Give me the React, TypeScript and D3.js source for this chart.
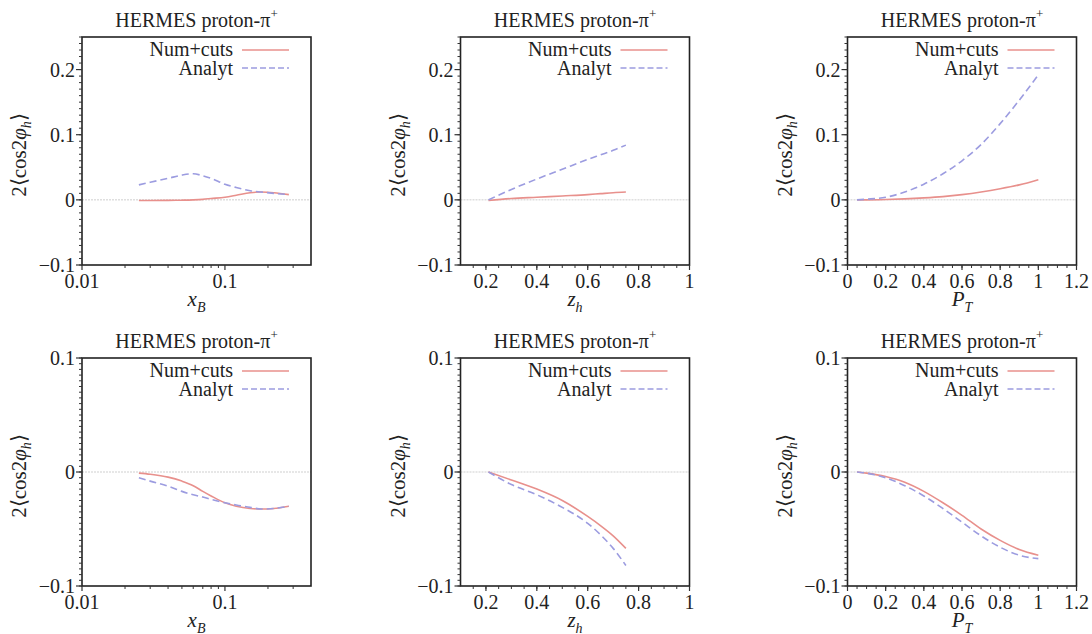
import React from "react";
import * as d3 from "d3";

// ---- data ----
const xbGrid = [0.025, 0.03, 0.04, 0.05, 0.06, 0.07, 0.08, 0.1, 0.12, 0.15, 0.18, 0.22, 0.28];
const zhGrid = [0.21, 0.3, 0.4, 0.5, 0.6, 0.65, 0.7, 0.75];
const ptGrid = [0.05, 0.1, 0.2, 0.3, 0.4, 0.5, 0.6, 0.7, 0.8, 0.9, 1.0];

const topXbNum = [-0.001, -0.001, -0.0008, -0.0005, 0, 0.0008, 0.002, 0.004, 0.007, 0.011, 0.012, 0.011, 0.008];
const topXbAna = [0.023, 0.027, 0.033, 0.038, 0.040, 0.037, 0.033, 0.024, 0.019, 0.014, 0.012, 0.010, 0.008];
const topZhNum = [-0.001, 0.002, 0.004, 0.006, 0.008, 0.0095, 0.011, 0.012];
const topZhAna = [0, 0.016, 0.032, 0.047, 0.062, 0.069, 0.076, 0.084];
const topPtNum = [0, 0, 0.0005, 0.0015, 0.003, 0.005, 0.008, 0.012, 0.017, 0.023, 0.031];
const topPtAna = [0, 0.001, 0.004, 0.012, 0.024, 0.040, 0.060, 0.085, 0.117, 0.153, 0.192];

const botXbNum = [-0.001, -0.002, -0.0045, -0.008, -0.012, -0.017, -0.021, -0.027, -0.030, -0.032, -0.0325, -0.032, -0.030];
const botXbAna = [-0.005, -0.008, -0.0125, -0.017, -0.020, -0.022, -0.024, -0.027, -0.029, -0.031, -0.0325, -0.032, -0.030];
const botZhNum = [0, -0.007, -0.015, -0.025, -0.039, -0.047, -0.056, -0.067];
const botZhAna = [0, -0.011, -0.020, -0.031, -0.045, -0.055, -0.067, -0.082];
const botPtNum = [0, -0.001, -0.004, -0.009, -0.017, -0.027, -0.038, -0.050, -0.060, -0.068, -0.073];
const botPtAna = [0, -0.001, -0.005, -0.012, -0.021, -0.032, -0.044, -0.056, -0.066, -0.073, -0.076];

const xbTickLabels = ["0.01", "0.1"];
const zhTickLabels = ["0.2", "0.4", "0.6", "0.8", "1"];
const ptTickLabels = ["0", "0.2", "0.4", "0.6", "0.8", "1", "1.2"];
const topYLabels = ["0.2", "0.1", "0", "−0.1"];
const botYLabels = ["0.1", "0", "−0.1"];

const TITLE = "HERMES proton-π";
const LEG_NUM = "Num+cuts";
const LEG_ANA = "Analyt";

const RED = "#e8908c";
const BLUE = "#9c9ce0";
const FONT = "Liberation Serif, serif";

type PanelKind = "xb" | "zh" | "pt";

interface PanelProps {
  left: number;
  top: number;
  kind: PanelKind;
  row: "top" | "bot";
  xs: number[];
  num: number[];
  ana: number[];
}

const W = 229;
const H = 228;

function Panel({ left, top, kind, row, xs, num, ana }: PanelProps) {
  let x: any;
  let minorX: number[] = [];
  let majorX: { v: number; label: string }[] = [];
  if (kind === "xb") {
    x = d3.scaleLog().domain([0.01, 0.4]).range([0, W]);
    minorX = [0.02, 0.03, 0.04, 0.05, 0.06, 0.07, 0.08, 0.09, 0.2, 0.3];
    majorX = [0.01, 0.1].map((v, i) => ({ v, label: xbTickLabels[i] }));
  } else if (kind === "zh") {
    x = d3.scaleLinear().domain([0.1, 1]).range([0, W]);
    minorX = d3.range(0.15, 1.0, 0.05);
    majorX = [0.2, 0.4, 0.6, 0.8, 1].map((v, i) => ({ v, label: zhTickLabels[i] }));
  } else {
    x = d3.scaleLinear().domain([0, 1.2]).range([0, W]);
    minorX = d3.range(0.05, 1.2, 0.05);
    majorX = [0, 0.2, 0.4, 0.6, 0.8, 1, 1.2].map((v, i) => ({ v, label: ptTickLabels[i] }));
  }
  const yDom = row === "top" ? [-0.1, 0.25] : [-0.1, 0.1];
  const y = d3.scaleLinear().domain(yDom).range([H, 0]);
  const yStep = row === "top" ? 0.01 : 0.005;
  const minorY: number[] = [];
  for (let v = yDom[0]; v <= yDom[1] + 1e-9; v += yStep) minorY.push(+v.toFixed(4));
  const majorYVals = row === "top" ? [0.2, 0.1, 0, -0.1] : [0.1, 0, -0.1];
  const yLabs = row === "top" ? topYLabels : botYLabels;

  const line = d3
    .line<number>()
    .x((_, i) => x(xs[i]))
    .y((d) => y(d))
    .curve(d3.curveMonotoneX);

  const xlabel =
    kind === "xb" ? (
      <>
        <tspan fontStyle="italic">x</tspan>
        <tspan fontStyle="italic" fontSize={14} dy={6}>B</tspan>
      </>
    ) : kind === "zh" ? (
      <>
        <tspan fontStyle="italic">z</tspan>
        <tspan fontStyle="italic" fontSize={14} dy={6}>h</tspan>
      </>
    ) : (
      <>
        <tspan fontStyle="italic">P</tspan>
        <tspan fontStyle="italic" fontSize={14} dy={6}>T</tspan>
      </>
    );

  return (
    <g transform={`translate(${left},${top})`} fontFamily={FONT} fill="#222">
      {/* title */}
      <text x={W / 2} y={-10} textAnchor="middle" fontSize={20}>
        {TITLE}
        <tspan fontSize={13} dy={-9}>+</tspan>
      </text>
      {/* zero line */}
      <line x1={0} x2={W} y1={y(0)} y2={y(0)} stroke="#cfcfcf" strokeWidth={1} strokeDasharray="2,1" />
      {/* curves */}
      <path d={line(num) || ""} fill="none" stroke={RED} strokeWidth={1.6} />
      <path d={line(ana) || ""} fill="none" stroke={BLUE} strokeWidth={1.6} strokeDasharray="7,4" />
      {/* legend */}
      <text x={151} y={19} textAnchor="end" fontSize={20}>{LEG_NUM}</text>
      <line x1={160} x2={207} y1={13} y2={13} stroke={RED} strokeWidth={1.5} />
      <text x={151} y={38} textAnchor="end" fontSize={20}>{LEG_ANA}</text>
      <line x1={160} x2={207} y1={31} y2={31} stroke={BLUE} strokeWidth={1.5} strokeDasharray="6,3" />
      {/* frame */}
      <rect x={0} y={0} width={W} height={H} fill="none" stroke="#222" strokeWidth={1.6} />
      {/* y ticks */}
      {minorY.map((v, i) => (
        <line key={"my" + i} x1={-3} x2={0} y1={y(v)} y2={y(v)} stroke="#333" strokeWidth={1} />
      ))}
      {majorYVals.map((v, i) => (
        <g key={"My" + i}>
          <line x1={-6} x2={0} y1={y(v)} y2={y(v)} stroke="#333" strokeWidth={1.2} />
          <text x={-7} y={y(v) + 7} textAnchor="end" fontSize={20}>{yLabs[i]}</text>
        </g>
      ))}
      {/* x ticks */}
      {minorX.map((v, i) => (
        <line key={"mx" + i} x1={x(v)} x2={x(v)} y1={H} y2={H + 3} stroke="#333" strokeWidth={1} />
      ))}
      {majorX.map((t, i) => (
        <g key={"Mx" + i}>
          <line x1={x(t.v)} x2={x(t.v)} y1={H} y2={H + 5} stroke="#333" strokeWidth={1.2} />
          <text x={x(t.v)} y={H + 23} textAnchor="middle" fontSize={20}>{t.label}</text>
        </g>
      ))}
      {/* x label */}
      <text x={W / 2} y={H + 41} textAnchor="middle" fontSize={21}>{xlabel}</text>
      {/* y label */}
      <text
        transform={`translate(${-56},${H / 2 + 4}) rotate(-90)`}
        textAnchor="middle"
        fontSize={21}
      >
        2⟨cos2
        <tspan fontStyle="italic">φ</tspan>
        <tspan fontStyle="italic" fontSize={14} dy={5}>h</tspan>
        <tspan dy={-5}>⟩</tspan>
      </text>
    </g>
  );
}

export default function App() {
  const lefts = [82, 460.5, 847.5];
  const tops = [37, 358];
  return (
    <div style={{ position: "absolute", left: 0, top: 0 }}>
      <svg width={1092} height={634} style={{ display: "block", background: "#fff" }}>
        <Panel left={lefts[0]} top={tops[0]} kind="xb" row="top" xs={xbGrid} num={topXbNum} ana={topXbAna} />
        <Panel left={lefts[1]} top={tops[0]} kind="zh" row="top" xs={zhGrid} num={topZhNum} ana={topZhAna} />
        <Panel left={lefts[2]} top={tops[0]} kind="pt" row="top" xs={ptGrid} num={topPtNum} ana={topPtAna} />
        <Panel left={lefts[0]} top={tops[1]} kind="xb" row="bot" xs={xbGrid} num={botXbNum} ana={botXbAna} />
        <Panel left={lefts[1]} top={tops[1]} kind="zh" row="bot" xs={zhGrid} num={botZhNum} ana={botZhAna} />
        <Panel left={lefts[2]} top={tops[1]} kind="pt" row="bot" xs={ptGrid} num={botPtNum} ana={botPtAna} />
      </svg>
    </div>
  );
}
